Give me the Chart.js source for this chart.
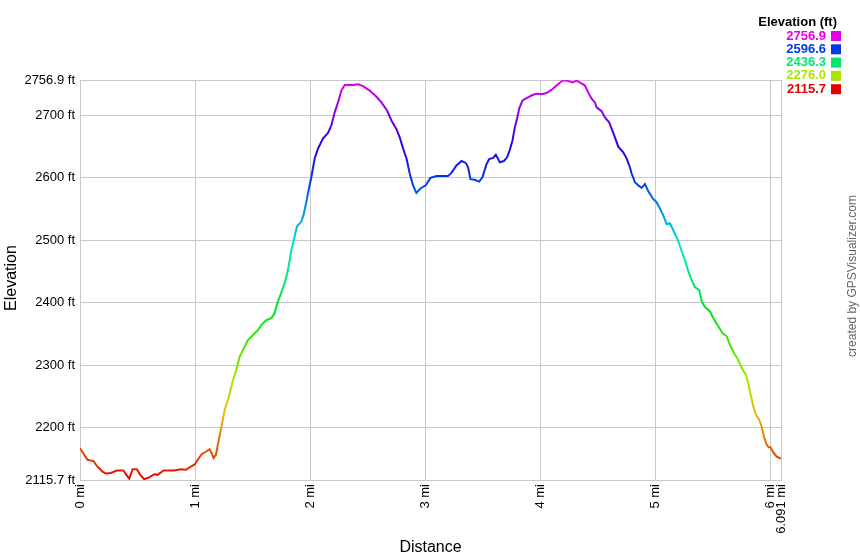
<!DOCTYPE html>
<html>
<head>
<meta charset="utf-8">
<title>Elevation profile</title>
<script src="https://cdn.jsdelivr.net/npm/chart.js@4/dist/chart.umd.min.js"></script>
<style>
  html, body { margin: 0; padding: 0; background: #fff; }
  #wrap { position: relative; width: 860px; height: 560px; }
</style>
</head>
<body>
<div id="wrap"><canvas id="elevChart" width="860" height="560"></canvas></div>
<script>
// ===== data =====
const distances = [
  0, 0.037, 0.065, 0.117, 0.152, 0.196, 0.225, 0.268, 0.32, 0.378,
  0.398, 0.428, 0.457, 0.494, 0.523, 0.558, 0.602, 0.645, 0.674, 0.726,
  0.775, 0.819, 0.877, 0.92, 0.963, 0.998, 1.022, 1.057, 1.094, 1.126,
  1.143, 1.16, 1.181, 1.198, 1.228, 1.257, 1.294, 1.329, 1.358, 1.387,
  1.416, 1.459, 1.503, 1.546, 1.575, 1.619, 1.662, 1.691, 1.714, 1.741,
  1.778, 1.801, 1.822, 1.836, 1.857, 1.885, 1.923, 1.943, 1.967, 1.987,
  2.01, 2.039, 2.068, 2.111, 2.155, 2.184, 2.213, 2.242, 2.271, 2.3,
  2.372, 2.416, 2.459, 2.517, 2.576, 2.619, 2.668, 2.706, 2.75, 2.778,
  2.807, 2.837, 2.865, 2.894, 2.923, 2.958, 3.004, 3.045, 3.097, 3.198,
  3.228, 3.271, 3.315, 3.352, 3.372, 3.393, 3.43, 3.468, 3.497, 3.532,
  3.555, 3.59, 3.613, 3.648, 3.683, 3.711, 3.735, 3.758, 3.778, 3.798,
  3.816, 3.845, 3.88, 3.923, 3.965, 4.009, 4.052, 4.097, 4.14, 4.193,
  4.228, 4.28, 4.315, 4.343, 4.387, 4.416, 4.445, 4.474, 4.489, 4.532,
  4.561, 4.598, 4.619, 4.648, 4.677, 4.72, 4.75, 4.778, 4.793, 4.822,
  4.851, 4.88, 4.909, 4.937, 4.981, 5.01, 5.039, 5.068, 5.097, 5.126,
  5.155, 5.198, 5.228, 5.257, 5.286, 5.315, 5.343, 5.381, 5.402, 5.43,
  5.474, 5.503, 5.546, 5.584, 5.619, 5.648, 5.683, 5.711, 5.75, 5.787,
  5.807, 5.828, 5.85, 5.874, 5.903, 5.923, 5.943, 5.967, 5.984, 6.0,
  6.024, 6.054, 6.091
];
const elevations = [
  2167, 2156, 2148, 2146, 2137, 2129, 2126, 2127, 2131, 2131,
  2125, 2118, 2133, 2133, 2124, 2117, 2120, 2125, 2124, 2131,
  2131, 2131, 2133, 2132, 2137, 2141, 2148, 2157, 2161, 2165,
  2159, 2151, 2156, 2173, 2200, 2228, 2249, 2276, 2292, 2313,
  2324, 2340, 2348, 2356, 2364, 2372, 2375, 2383, 2399, 2412,
  2431, 2447, 2468, 2484, 2500, 2522, 2530, 2541, 2562, 2581,
  2601, 2631, 2647, 2663, 2672, 2684, 2705, 2721, 2740, 2749,
  2749, 2750, 2747, 2740, 2730, 2721, 2708, 2692, 2678, 2665,
  2647, 2631, 2607, 2588, 2576, 2583, 2588, 2600, 2603, 2603,
  2608, 2620, 2627, 2624, 2617, 2598, 2597, 2594, 2601, 2622,
  2630, 2632, 2637, 2625, 2627, 2633, 2645, 2660, 2681, 2695,
  2711, 2724, 2728, 2732, 2735, 2734, 2736, 2741, 2748, 2756,
  2756, 2753, 2756, 2753, 2748, 2737, 2727, 2721, 2713, 2707,
  2697, 2689, 2679, 2665, 2650, 2641, 2631, 2617, 2607, 2593,
  2588, 2584, 2590, 2579, 2566, 2561, 2551, 2540, 2526, 2527,
  2516, 2499, 2482, 2468, 2450, 2436, 2425, 2420, 2402, 2393,
  2386, 2375, 2362, 2351, 2346, 2332, 2319, 2311, 2295, 2284,
  2270, 2252, 2234, 2220, 2212, 2201, 2185, 2172, 2168, 2168,
  2160, 2153, 2150
];

const xTicks = [0, 1, 2, 3, 4, 5, 6, 6.091];
const yTicks = [2115.7, 2200, 2300, 2400, 2500, 2600, 2700, 2756.9];
const legendValues = ["2756.9", "2596.6", "2436.3", "2276.0", "2115.7"];

const Y_MIN = 2115.7;
const Y_MAX = 2756.9;
const FONT = "'Liberation Sans', Arial, Helvetica, sans-serif";

// colour by elevation: red (low) -> magenta (high)
const hueFor = t => `hsl(${Math.round(300 * t)}, 100%, 45%)`;

function elevGradient(context) {
  const { chart } = context;
  const area = chart.chartArea;
  if (!area) return "#e00";
  const g = chart.ctx.createLinearGradient(0, area.bottom, 0, area.top);
  for (let i = 0; i <= 12; i++) g.addColorStop(i / 12, hueFor(i / 12));
  return g;
}

// titles, legend and credit
const decorations = {
  id: "decorations",
  afterDraw(chart) {
    const c = chart.ctx;
    const area = chart.chartArea;
    c.save();
    c.fillStyle = "#000";
    c.font = `16px ${FONT}`;
    c.textAlign = "center";
    c.textBaseline = "middle";
    c.fillText("Distance", (area.left + area.right) / 2, 548);

    c.save();
    c.translate(12, (area.top + area.bottom) / 2 - 2);
    c.rotate(-Math.PI / 2);
    c.fillText("Elevation", 0, 0);
    c.restore();

    // legend
    c.textAlign = "right";
    c.font = `bold 13px ${FONT}`;
    c.fillText("Elevation (ft)", 837, 22);
    legendValues.forEach((v, i) => {
      const t = 1 - i / 4;
      const y = 36 + i * 13.3;
      c.fillStyle = hueFor(t);
      c.fillText(v, 826, y);
      c.fillRect(831, y - 5, 10, 10);
    });

    // credit
    c.save();
    c.fillStyle = "#666";
    c.font = `12px ${FONT}`;
    c.textAlign = "center";
    c.translate(853, 276);
    c.rotate(-Math.PI / 2);
    c.fillText("created by GPSVisualizer.com", 0, 0);
    c.restore();
    c.restore();
  }
};

const points = distances.map((d, i) => ({ x: d, y: elevations[i] }));

new Chart(document.getElementById("elevChart").getContext("2d"), {
  type: "line",
  data: {
    datasets: [{
      label: "Elevation",
      data: points,
      borderColor: elevGradient,
      borderWidth: 2,
      pointRadius: 0,
      tension: 0,
      fill: false
    }]
  },
  options: {
    responsive: false,
    animation: false,
    events: [],
    layout: { padding: { top: 80, right: 79, bottom: 0, left: 0 } },
    plugins: { legend: { display: false }, tooltip: { enabled: false } },
    scales: {
      x: {
        type: "linear",
        min: 0,
        max: 6.091,
        afterBuildTicks: s => { s.ticks = xTicks.map(v => ({ value: v })); },
        afterFit: s => { s.height = 80; },
        grid: { color: "#c8c8c8", drawTicks: false },
        border: { color: "#c8c8c8" },
        ticks: {
          autoSkip: false,
          minRotation: 90,
          maxRotation: 90,
          padding: 4,
          color: "#000",
          font: { family: FONT, size: 13 },
          callback: v => `${v} mi`
        }
      },
      y: {
        type: "linear",
        min: Y_MIN,
        max: Y_MAX,
        afterBuildTicks: s => { s.ticks = yTicks.map(v => ({ value: v })); },
        afterFit: s => { s.width = 80; },
        grid: { color: "#c8c8c8", drawTicks: false },
        border: { color: "#c8c8c8" },
        ticks: {
          padding: 5,
          color: "#000",
          font: { family: FONT, size: 13 },
          callback: v => `${v} ft`
        }
      }
    }
  },
  plugins: [decorations]
});
</script>
</body>
</html>
